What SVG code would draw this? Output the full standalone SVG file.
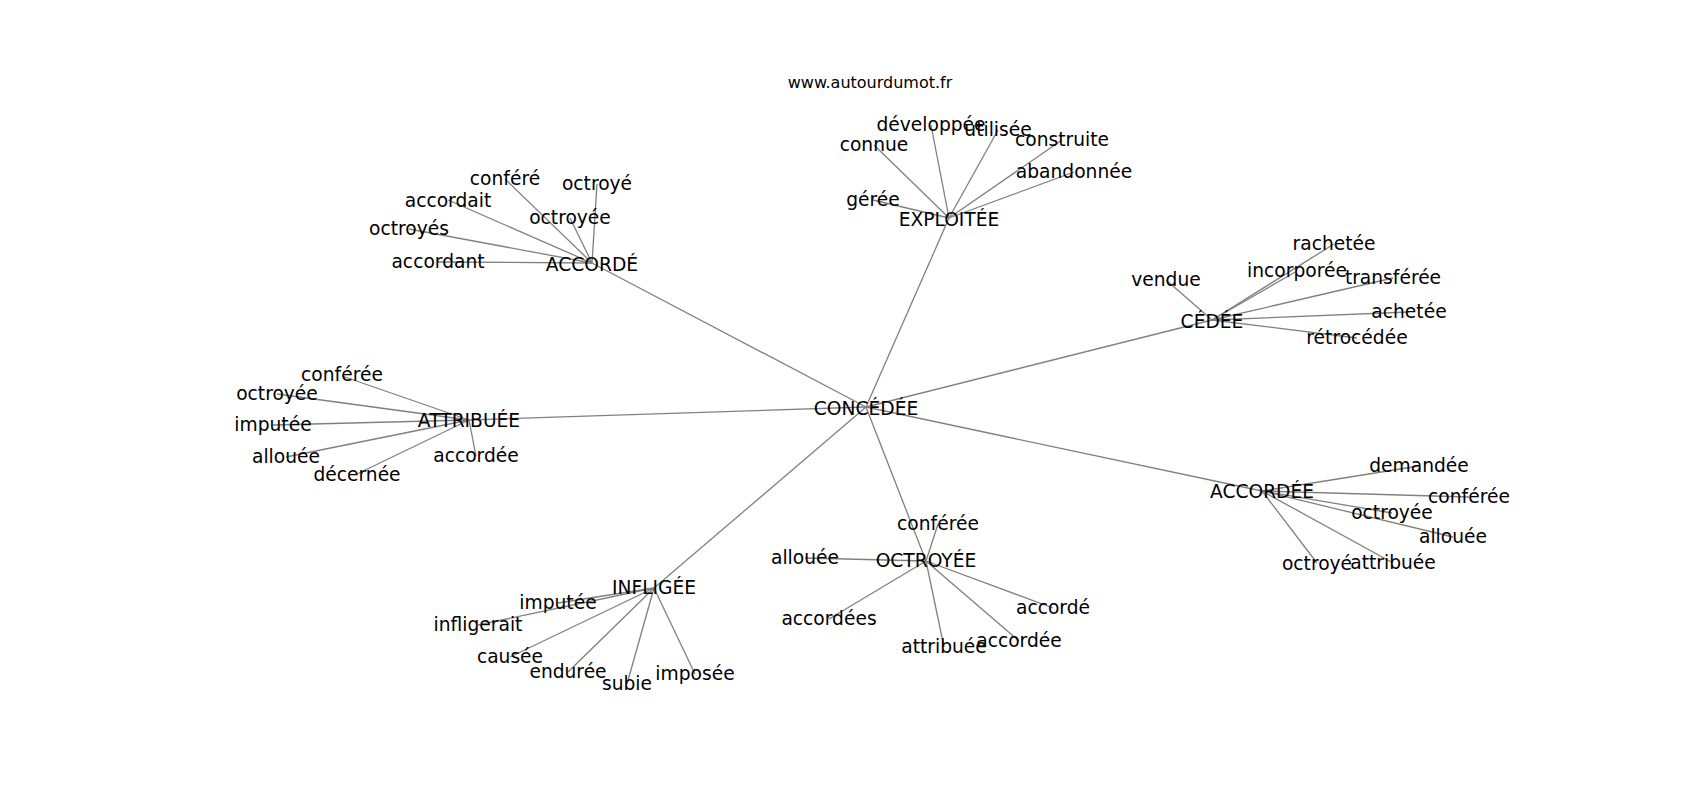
<svg xmlns="http://www.w3.org/2000/svg" width="1700" height="800" viewBox="0 0 1700 800">
<style>
.e{stroke:#808080;stroke-width:1.3;fill:none}
text{font-family:"DejaVu Sans","Liberation Sans",sans-serif;font-size:18.67px;fill:#000;text-anchor:middle}
.t{font-size:16px}
</style>
<rect width="1700" height="800" fill="#fff"/>
<text class="t" x="870" y="88">www.autourdumot.fr</text>
<g id="connectors">
<line class="e" x1="866" y1="407" x2="592" y2="263"/>
<line class="e" x1="866" y1="407" x2="949" y2="218"/>
<line class="e" x1="866" y1="407" x2="1212" y2="320"/>
<line class="e" x1="866" y1="407" x2="469" y2="420"/>
<line class="e" x1="866" y1="407" x2="1262" y2="491"/>
<line class="e" x1="866" y1="407" x2="654" y2="588"/>
<line class="e" x1="866" y1="407" x2="926" y2="561"/>
<line class="e" x1="592" y1="263" x2="505" y2="179"/>
<line class="e" x1="592" y1="263" x2="597" y2="184"/>
<line class="e" x1="592" y1="263" x2="448" y2="200"/>
<line class="e" x1="592" y1="263" x2="570" y2="218"/>
<line class="e" x1="592" y1="263" x2="409" y2="229"/>
<line class="e" x1="592" y1="263" x2="438" y2="262"/>
<line class="e" x1="949" y1="218" x2="873" y2="200"/>
<line class="e" x1="949" y1="218" x2="874" y2="145"/>
<line class="e" x1="949" y1="218" x2="931" y2="125"/>
<line class="e" x1="949" y1="218" x2="998" y2="130"/>
<line class="e" x1="949" y1="218" x2="1062" y2="140"/>
<line class="e" x1="949" y1="218" x2="1074" y2="172"/>
<line class="e" x1="1212" y1="320" x2="1166" y2="280"/>
<line class="e" x1="1212" y1="320" x2="1334" y2="244"/>
<line class="e" x1="1212" y1="320" x2="1297" y2="271"/>
<line class="e" x1="1212" y1="320" x2="1393" y2="278"/>
<line class="e" x1="1212" y1="320" x2="1409" y2="312"/>
<line class="e" x1="1212" y1="320" x2="1357" y2="338"/>
<line class="e" x1="1262" y1="491" x2="1419" y2="466"/>
<line class="e" x1="1262" y1="491" x2="1469" y2="497"/>
<line class="e" x1="1262" y1="491" x2="1392" y2="513"/>
<line class="e" x1="1262" y1="491" x2="1453" y2="537"/>
<line class="e" x1="1262" y1="491" x2="1317" y2="563"/>
<line class="e" x1="1262" y1="491" x2="1393" y2="563"/>
<line class="e" x1="469" y1="420" x2="342" y2="376"/>
<line class="e" x1="469" y1="420" x2="277" y2="394"/>
<line class="e" x1="469" y1="420" x2="273" y2="425"/>
<line class="e" x1="469" y1="420" x2="286" y2="457"/>
<line class="e" x1="469" y1="420" x2="357" y2="474"/>
<line class="e" x1="469" y1="420" x2="476" y2="456"/>
<line class="e" x1="654" y1="588" x2="558" y2="603"/>
<line class="e" x1="654" y1="588" x2="478" y2="625"/>
<line class="e" x1="654" y1="588" x2="510" y2="657"/>
<line class="e" x1="654" y1="588" x2="568" y2="672"/>
<line class="e" x1="654" y1="588" x2="627" y2="684"/>
<line class="e" x1="654" y1="588" x2="695" y2="674"/>
<line class="e" x1="926" y1="561" x2="938" y2="524"/>
<line class="e" x1="926" y1="561" x2="805" y2="558"/>
<line class="e" x1="926" y1="561" x2="829" y2="619"/>
<line class="e" x1="926" y1="561" x2="944" y2="647"/>
<line class="e" x1="926" y1="561" x2="1019" y2="641"/>
<line class="e" x1="926" y1="561" x2="1053" y2="608"/>
</g>
<g id="n-concedee"><text x="866" y="414.5">CONCÉDÉE</text></g>
<g id="n-accorde"><text x="592" y="271">ACCORDÉ</text></g>
<g id="n-accorde-confere"><text x="505" y="185">conféré</text></g>
<g id="n-accorde-octroye"><text x="597" y="190">octroyé</text></g>
<g id="n-accorde-accordait"><text x="448" y="206.5">accordait</text></g>
<g id="n-accorde-octroyee"><text x="570" y="224">octroyée</text></g>
<g id="n-accorde-octroyes"><text x="409" y="235">octroyés</text></g>
<g id="n-accorde-accordant"><text x="438" y="268">accordant</text></g>
<g id="n-exploitee"><text x="949" y="225.5">EXPLOITÉE</text></g>
<g id="n-exploitee-geree"><text x="873" y="206">gérée</text></g>
<g id="n-exploitee-connue"><text x="874" y="151">connue</text></g>
<g id="n-exploitee-developpee"><text x="931" y="131">développée</text></g>
<g id="n-exploitee-utilisee"><text x="998" y="136">utilisée</text></g>
<g id="n-exploitee-construite"><text x="1062" y="146">construite</text></g>
<g id="n-exploitee-abandonnee"><text x="1074" y="178">abandonnée</text></g>
<g id="n-cedee"><text x="1212" y="328">CÉDÉE</text></g>
<g id="n-cedee-vendue"><text x="1166" y="286">vendue</text></g>
<g id="n-cedee-rachetee"><text x="1334" y="250.3">rachetée</text></g>
<g id="n-cedee-incorporee"><text x="1297" y="277">incorporée</text></g>
<g id="n-cedee-transferee"><text x="1393" y="284.3">transférée</text></g>
<g id="n-cedee-achetee"><text x="1409" y="318.3">achetée</text></g>
<g id="n-cedee-retrocedee"><text x="1357" y="344.3">rétrocédée</text></g>
<g id="n-accordee"><text x="1262" y="498.3">ACCORDÉE</text></g>
<g id="n-accordee-demandee"><text x="1419" y="471.7">demandée</text></g>
<g id="n-accordee-conferee"><text x="1469" y="502.7">conférée</text></g>
<g id="n-accordee-octroyee"><text x="1392" y="519">octroyée</text></g>
<g id="n-accordee-allouee"><text x="1453" y="542.7">allouée</text></g>
<g id="n-accordee-octroye"><text x="1317" y="570">octroyé</text></g>
<g id="n-accordee-attribuee"><text x="1393" y="569.3">attribuée</text></g>
<g id="n-attribuee"><text x="469" y="427">ATTRIBUÉE</text></g>
<g id="n-attribuee-conferee"><text x="342" y="381">conférée</text></g>
<g id="n-attribuee-octroyee"><text x="277" y="399.7">octroyée</text></g>
<g id="n-attribuee-imputee"><text x="273" y="431">imputée</text></g>
<g id="n-attribuee-allouee"><text x="286" y="462.7">allouée</text></g>
<g id="n-attribuee-decernee"><text x="357" y="480.8">décernée</text></g>
<g id="n-attribuee-accordee"><text x="476" y="462">accordée</text></g>
<g id="n-infligee"><text x="654" y="594">INFLIGÉE</text></g>
<g id="n-infligee-imputee"><text x="558" y="609.3">imputée</text></g>
<g id="n-infligee-infligerait"><text x="478" y="631">infligerait</text></g>
<g id="n-infligee-causee"><text x="510" y="662.7">causée</text></g>
<g id="n-infligee-enduree"><text x="568" y="677.7">endurée</text></g>
<g id="n-infligee-subie"><text x="627" y="689.5">subie</text></g>
<g id="n-infligee-imposee"><text x="695" y="679.5">imposée</text></g>
<g id="n-octroyee"><text x="926" y="567">OCTROYÉE</text></g>
<g id="n-octroyee-conferee"><text x="938" y="530.3">conférée</text></g>
<g id="n-octroyee-allouee"><text x="805" y="563.7">allouée</text></g>
<g id="n-octroyee-accordees"><text x="829" y="625">accordées</text></g>
<g id="n-octroyee-attribuee"><text x="944" y="652.7">attribuée</text></g>
<g id="n-octroyee-accordee"><text x="1019" y="646.7">accordée</text></g>
<g id="n-octroyee-accorde"><text x="1053" y="614.3">accordé</text></g>
</svg>
